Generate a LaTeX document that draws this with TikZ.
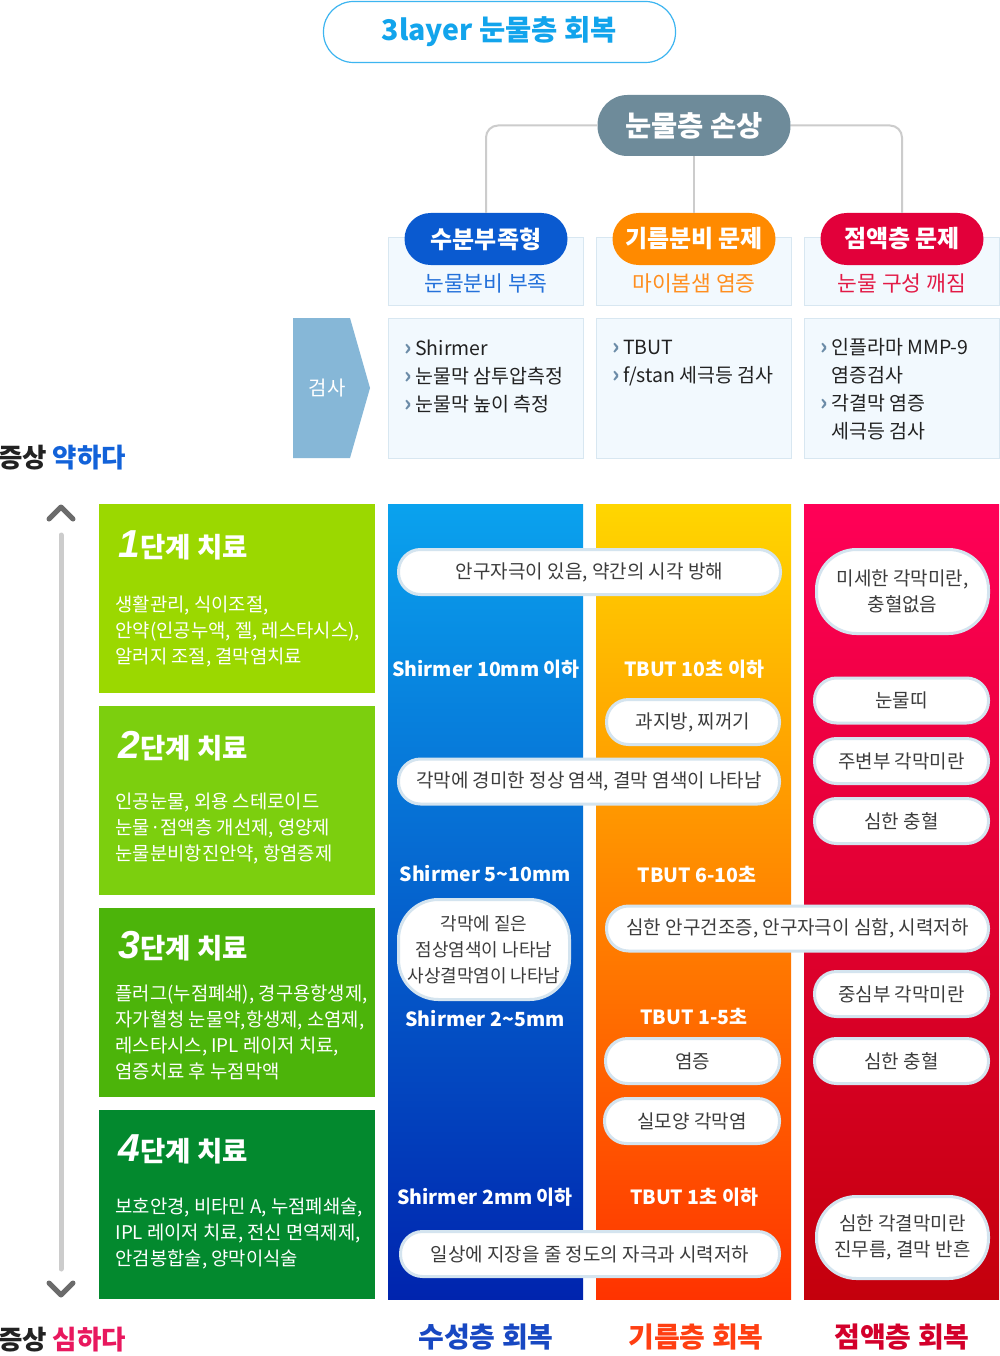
\documentclass[tikz,border=0pt]{standalone}
\usepackage{fontspec}
\setmainfont{Noto Sans CJK KR}
\newfontfamily\digitfont{Liberation Sans}
\usepackage{tikz}

\definecolor{titleblue}{HTML}{12A4EC}
\definecolor{titleline}{HTML}{3DB5F0}
\definecolor{damagegray}{HTML}{6E8B9A}
\definecolor{linegray}{HTML}{CCCCCC}
\definecolor{waterblue}{HTML}{0A5AD0}
\definecolor{watertext}{HTML}{2471DA}
\definecolor{oilorange}{HTML}{FF8A00}
\definecolor{oiltext}{HTML}{FF8E1E}
\definecolor{mucinred}{HTML}{E2003A}
\definecolor{mucintext}{HTML}{E21A46}
\definecolor{boxfill}{HTML}{F2F9FE}
\definecolor{boxline}{HTML}{D8E7F1}
\definecolor{testblue}{HTML}{86B7D7}
\definecolor{chevgray}{HTML}{6C8CA8}
\definecolor{darktext}{HTML}{222222}
\definecolor{pilltext}{HTML}{3C3C3C}
\definecolor{pillline}{HTML}{D4E4EF}
\definecolor{stageA}{HTML}{9BD800}
\definecolor{stageB}{HTML}{7CCF0E}
\definecolor{stageC}{HTML}{4CB40A}
\definecolor{stageD}{HTML}{03892E}
\definecolor{mildblue}{HTML}{1262D9}
\definecolor{severepink}{HTML}{E8185E}
\definecolor{arrowgray}{HTML}{6B6B6B}
\definecolor{blueTop}{HTML}{0AA2EE}
\definecolor{blueMid}{HTML}{0068D8}
\definecolor{blueBot}{HTML}{0024AE}
\definecolor{oilTop}{HTML}{FFD600}
\definecolor{oilMid}{HTML}{FF8F00}
\definecolor{oilBot}{HTML}{FF3300}
\definecolor{mucTop}{HTML}{FF0057}
\definecolor{mucMid}{HTML}{E5003A}
\definecolor{mucBot}{HTML}{C4000C}
\definecolor{waterlabel}{HTML}{1848C2}
\definecolor{oillabel}{HTML}{FF3F12}
\definecolor{mucinlabel}{HTML}{D3002B}

\newcommand\chev{{\color{chevgray}\bfseries\fontsize{22}{22}\selectfont ›}\,}
\newcommand\chevgap{\phantom{\bfseries\fontsize{22}{22}\selectfont ›}\,}
\newcommand\stepnum[1]{{\digitfont\bfseries\itshape\fontsize{39}{39}\selectfont #1}}

\tikzset{
  pill/.style={rounded corners=26pt, minimum width=163pt, minimum height=52pt, inner sep=0pt, text=white, font=\bfseries\fontsize{24}{26}\selectfont},
  catbox/.style={draw=boxline, fill=boxfill, line width=1pt, inner sep=0pt},
  subtext/.style={font=\fontsize{21.5}{24}\selectfont},
  testtext/.style={anchor=west, align=left, text=darktext, font=\fontsize{19.5}{28}\selectfont},
  stagebox/.style={minimum width=276pt, minimum height=189pt, inner sep=0pt},
  stagetitle/.style={anchor=west, text=white, font=\bfseries\fontsize{27.5}{30}\selectfont},
  stagetext/.style={anchor=west, align=left, text=white, font=\fontsize{18.8}{26}\selectfont},
  wpill/.style={draw=pillline, line width=3pt, fill=white, rounded corners=22pt, minimum height=45pt, inner sep=0pt, align=center, text=pilltext, font=\fontsize{19}{26}\selectfont},
  level/.style={text=white, font=\bfseries\fontsize{19.5}{22}\selectfont},
  recovery/.style={font=\bfseries\fontsize{28}{30}\selectfont},
  symptom/.style={text=darktext, font=\bfseries\fontsize{26.5}{28}\selectfont},
  conn/.style={linegray, line width=2pt, rounded corners=12pt},
  chevron/.style={arrowgray, line width=5pt, line cap=round, line join=round},
}

\begin{document}
\begin{tikzpicture}[x=1pt,y=-1pt]
  \useasboundingbox[fill=white] (0,0) rectangle (1000,1356);

  \node[draw=titleline, line width=1.2pt, rounded corners=30pt, minimum width=352pt, minimum height=61pt, text=titleblue, font=\bfseries\fontsize{28.5}{30}\selectfont] (title) at (499.5,32) {3layer 눈물층 회복};

  \node[pill, fill=damagegray, minimum width=193pt, minimum height=61pt, rounded corners=30pt, font=\bfseries\fontsize{28.5}{30}\selectfont] (damage) at (694,125.5) {눈물층 손상};

  \node[catbox, minimum width=195pt, minimum height=67pt] (wbox) at (485.5,271.5) {};
  \node[catbox, minimum width=195pt, minimum height=67pt] (obox) at (693.5,271.5) {};
  \node[catbox, minimum width=195pt, minimum height=67pt] (mbox) at (901.5,271.5) {};
  \node[pill, fill=waterblue] (water) at (486,239) {수분부족형};
  \node[pill, fill=oilorange] (oil) at (694,239) {기름분비 문제};
  \node[pill, fill=mucinred] (mucin) at (902,239) {점액층 문제};
  \draw[conn] (damage.west) -| (water.north);
  \draw[conn] (damage.east) -| (mucin.north);
  \draw[conn] (damage.south) -- (oil.north);
  \node[subtext, text=watertext] (wsub) at (486,283) {눈물분비 부족};
  \node[subtext, text=oiltext] (osub) at (694,283) {마이봄샘 염증};
  \node[subtext, text=mucintext] (msub) at (902,283) {눈물 구성 깨짐};

  \fill[testblue] (293,318) -- (350,318) -- (370,388) -- (350,458) -- (293,458) -- cycle;
  \node[text=white, font=\fontsize{20}{22}\selectfont] (testlabel) at (327,388) {검사};
  \node[catbox, minimum width=195pt, minimum height=140pt] (wtest) at (485.5,388) {};
  \node[catbox, minimum width=195pt, minimum height=140pt] (otest) at (693.5,388) {};
  \node[catbox, minimum width=195pt, minimum height=140pt] (mtest) at (901.5,388) {};
  \node[testtext] (wtesttext) at (401,377) {\chev Shirmer\\\chev 눈물막 삼투압측정\\\chev 눈물막 높이 측정};
  \node[testtext] (otesttext) at (609,363) {\chev TBUT\\\chev f/stan 세극등 검사};
  \node[testtext] (mtesttext) at (817,389) {\chev 인플라마 MMP-9\\\chevgap 염증검사\\\chev 각결막 염증\\\chevgap 세극등 검사};

  \node[symptom] (mild) at (62,458) {증상 \textcolor{mildblue}{약하다}};
  \node[symptom] (severe) at (62,1340) {증상 \textcolor{severepink}{심하다}};
  \coordinate (scaletop) at (61,535);
  \coordinate (scalebot) at (61,1269);
  \draw[linegray, line width=5pt, line cap=round] (scaletop) -- (scalebot);
  \draw[chevron] (49,519) -- (61,507) -- (73,519);
  \draw[chevron] (49,1283) -- (61,1295) -- (73,1283);

  \node[stagebox, fill=stageA] (stage1) at (237,598.5) {};
  \node[stagebox, fill=stageB] (stage2) at (237,800.5) {};
  \node[stagebox, fill=stageC] (stage3) at (237,1002.5) {};
  \node[stagebox, fill=stageD] (stage4) at (237,1204.5) {};
  \node[stagetitle] (stage1title) at (115,545) {\stepnum{1}단계 치료};
  \node[stagetitle] (stage2title) at (115,746) {\stepnum{2}단계 치료};
  \node[stagetitle] (stage3title) at (115,946) {\stepnum{3}단계 치료};
  \node[stagetitle] (stage4title) at (115,1149) {\stepnum{4}단계 치료};
  \node[stagetext] (stage1text) at (112,631) {생활관리, 식이조절,\\안약(인공누액, 젤, 레스타시스),\\알러지 조절, 결막염치료};
  \node[stagetext] (stage2text) at (112,829) {인공눈물, 외용 스테로이드\\눈물·점액층 개선제, 영양제\\눈물분비항진안약, 항염증제};
  \node[stagetext] (stage3text) at (112,1032) {플러그(누점폐쇄), 경구용항생제,\\자가혈청 눈물약,항생제, 소염제,\\레스타시스, IPL 레이저 치료,\\염증치료 후 누점막액};
  \node[stagetext] (stage4text) at (112,1233) {보호안경, 비타민 A, 누점폐쇄술,\\IPL 레이저 치료, 전신 면역제제,\\안검봉합술, 양막이식술};

  \shade[top color=blueTop, middle color=blueMid, bottom color=blueBot] (388,504) rectangle (583,1299);
  \shade[top color=oilTop, middle color=oilMid, bottom color=oilBot] (596,504) rectangle (791,1299);
  \shade[top color=mucTop, middle color=mucMid, bottom color=mucBot] (804,504) rectangle (999,1299);

  \node[wpill, minimum width=382pt] (irritation) at (589.5,572) {안구자극이 있음, 약간의 시각 방해};
  \node[wpill, minimum width=172pt, minimum height=84pt, rounded corners=40pt] (erosion1) at (902.5,591.5) {미세한 각막미란,\\충혈없음};
  \node[level] (schirmer1) at (486,669) {Shirmer 10mm 이하};
  \node[level] (tbut1) at (694,669) {TBUT 10초 이하};
  \node[wpill, minimum width=173pt] (lipid) at (693,722) {과지방, 찌꺼기};
  \node[wpill, minimum width=174pt] (meniscus) at (901.5,700.5) {눈물띠};
  \node[wpill, minimum width=381pt] (stain1) at (589,781.5) {각막에 경미한 정상 염색, 결막 염색이 나타남};
  \node[wpill, minimum width=174pt] (erosion2) at (901.5,761) {주변부 각막미란};
  \node[wpill, minimum width=174pt] (redness1) at (901.5,821) {심한 충혈};
  \node[level] (schirmer2) at (485,874) {Shirmer 5\textasciitilde10mm};
  \node[level] (tbut2) at (697,874) {TBUT 6-10초};
  \node[wpill, minimum width=171pt, minimum height=100pt, rounded corners=40pt, font=\fontsize{18}{26}\selectfont] (stain2) at (484,949.5) {각막에 짙은\\점상염색이 나타남\\사상결막염이 나타남};
  \node[wpill, minimum width=382pt] (dryness) at (797.5,928.5) {심한 안구건조증, 안구자극이 심함, 시력저하};
  \node[level] (schirmer3) at (485,1019) {Shirmer 2\textasciitilde5mm};
  \node[level] (tbut3) at (694,1016) {TBUT 1-5초};
  \node[wpill, minimum width=174pt] (erosion3) at (901.5,994) {중심부 각막미란};
  \node[wpill, minimum width=174pt] (inflam) at (692.5,1061) {염증};
  \node[wpill, minimum width=174pt] (redness2) at (901.5,1061) {심한 충혈};
  \node[wpill, minimum width=175pt] (filament) at (692,1121) {실모양 각막염};
  \node[level] (schirmer4) at (485,1197) {Shirmer 2mm 이하};
  \node[level] (tbut4) at (694,1197) {TBUT 1초 이하};
  \node[wpill, minimum width=172pt, minimum height=82pt, rounded corners=40pt] (erosion4) at (902.5,1237.5) {심한 각결막미란\\진무름, 결막 반흔};
  \node[wpill, minimum width=379pt] (vision) at (590,1254) {일상에 지장을 줄 정도의 자극과 시력저하};

  \node[recovery, text=waterlabel] (waterrec) at (486,1337) {수성층 회복};
  \node[recovery, text=oillabel] (oilrec) at (696,1337) {기름층 회복};
  \node[recovery, text=mucinlabel] (mucinrec) at (902,1337) {점액층 회복};
\end{tikzpicture}
\end{document}
